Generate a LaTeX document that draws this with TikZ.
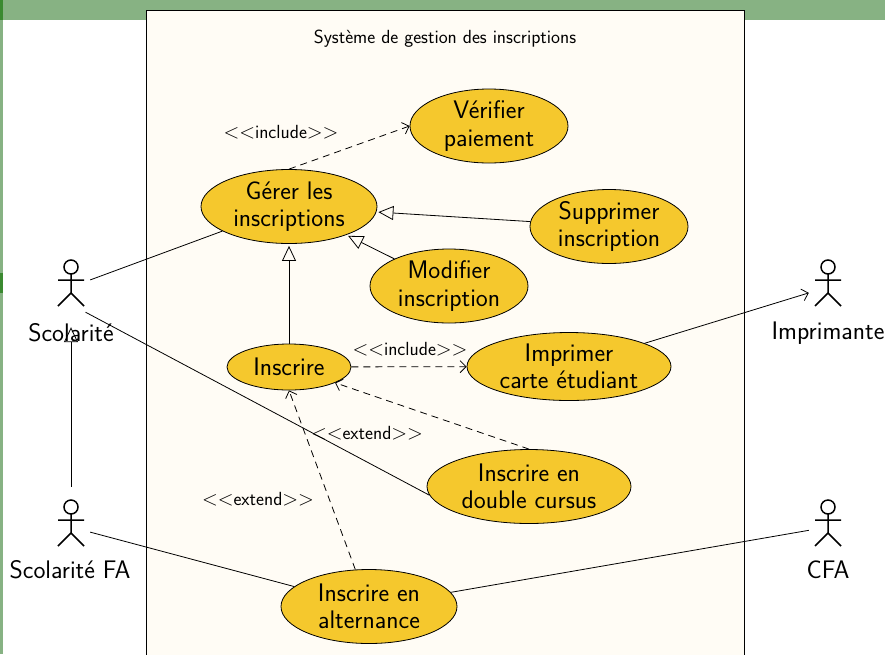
\documentclass[tikz,border=0pt]{standalone}
\usepackage{fix-cm}
\usetikzlibrary{arrows.meta,shapes.geometric}
\renewcommand{\familydefault}{\sfdefault}
\DeclareMathSizes{19}{20.7}{14}{10}
\definecolor{bandgreen}{HTML}{87B283}
\definecolor{darkgreen}{HTML}{3B8A31}
\definecolor{boxcream}{HTML}{FFFCF5}
\definecolor{caseyellow}{HTML}{F5C82D}
\tikzset{
    usecase/.style={ellipse,draw,fill=caseyellow,align=center,inner sep=0pt,line width=0.8pt,font=\fontsize{25.4}{27.5}\selectfont},
    actorbox/.style={minimum width=38pt,minimum height=50pt,inner sep=0pt},
    actorname/.style={font=\fontsize{25.4}{27.5}\selectfont},
    stereo/.style={font=\fontsize{19}{20}\selectfont},
    link/.style={line width=0.8pt},
    dep/.style={line width=0.8pt,dashed,dash pattern=on 7pt off 5pt,-{Straight Barb[length=6pt,width=12pt]}},
    inherit/.style={line width=0.8pt,-{Triangle[open,length=15pt,width=14pt]}},
    actorman/.pic={
        \draw[line width=1.5pt] (0,-20) circle (7pt);
        \draw[line width=1.5pt] (0,-13) -- (0,6) (-13,-7) -- (13,-7) (-13,19) -- (0,6) -- (13,19);
    }
}
\begin{document}
\begin{tikzpicture}[x=1pt,y=-1pt]
        \useasboundingbox (0,0) rectangle (885,654);
        \fill[bandgreen] (0,0) rectangle (885,20);
        \fill[bandgreen] (0,0) rectangle (3,654);
        \fill[darkgreen] (0,0) rectangle (3,20);
        \fill[darkgreen] (0,273) rectangle (3,293);
        \draw[fill=boxcream,line width=0.8pt] (146,10) rectangle (744,660);
        \node (title) at (445,39){\fontsize{19}{20}\selectfont Système de gestion des inscriptions};

        \node[usecase,minimum width=176pt,minimum height=74pt] (gerer) at (289,206.5){Gérer les\\inscriptions};
        \node[usecase,minimum width=158pt,minimum height=74pt] (verifier) at (489,126){Vérifier\\paiement};
        \node[usecase,minimum width=158pt,minimum height=74pt] (supprimer) at (609,226.5){Supprimer\\inscription};
        \node[usecase,minimum width=158pt,minimum height=74pt] (modifier) at (449,286){Modifier\\inscription};
        \node[usecase,minimum width=124pt,minimum height=46pt] (inscrire) at (289,367){Inscrire};
        \node[usecase,minimum width=204pt,minimum height=68pt] (imprimer) at (569,366.5){Imprimer\\carte étudiant};
        \node[usecase,minimum width=204pt,minimum height=74pt] (cursus) at (529,486.5){Inscrire en\\double cursus};
        \node[usecase,minimum width=176pt,minimum height=74pt] (alternance) at (369,606.5){Inscrire en\\alternance};

        \node[actorbox] (scol) at (71,287){};
        \node[actorbox] (scolfa) at (71,527){};
        \node[actorbox] (impr) at (828,287){};
        \node[actorbox] (cfa) at (828,527){};
        \foreach \actor in {scol,scolfa,impr,cfa}
            \pic at (\actor) {actorman};
        \node[actorname] (scolname) at (71,333){Scolarité};
        \node[actorname] (scolfaname) at (70,570){Scolarité FA};
        \node[actorname] (imprname) at (828,333){Imprimante};
        \node[actorname] (cfaname) at (828,570){CFA};

        \node[stereo] (incla) at (281,132){$<<$include$>>$};
        \node[stereo] (inclb) at (410,349){$<<$include$>>$};
        \node[stereo] (exta) at (367,433){$<<$extend$>>$};
        \node[stereo] (extb) at (258,499){$<<$extend$>>$};

        \draw[link] (scol) -- (gerer);
        \draw[link] (scol.-60) -- (cursus.185);
        \draw[link] (scolfa) -- (alternance);
        \draw[link] (alternance) -- (cfa);
        \draw[link,-{Straight Barb[length=6pt,width=12pt]}] (imprimer) -- (impr);
        \draw[inherit,shorten >=15pt,shorten <=15pt] (scolfa) -- (scol);
        \draw[inherit,shorten >=2pt] (inscrire) -- (gerer);
        \draw[inherit,shorten >=2pt] (supprimer) -- (gerer);
        \draw[inherit,shorten >=2pt] (modifier) -- (gerer);
        \draw[dep] (gerer.north) -- (verifier.west);
        \draw[dep] (inscrire) -- (imprimer);
        \draw[dep] (cursus.north) -- (inscrire);
        \draw[dep] (alternance) -- (inscrire.south);
    \end{tikzpicture}
\end{document}
